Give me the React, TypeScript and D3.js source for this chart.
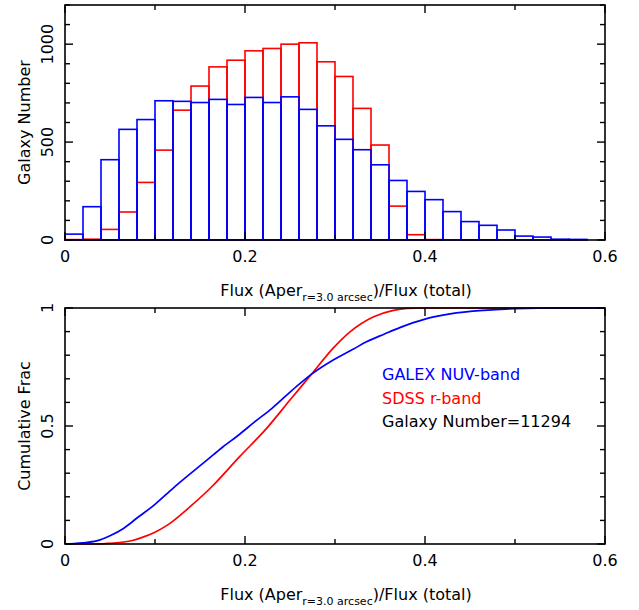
import { useRef, useEffect } from "react";
import * as d3 from "d3";

// histogram counts, bins of width 0.02 from 0 to 0.6
const binWidth = 0.02;
const nuvCounts = [30, 170, 410, 565, 615, 711, 708, 702, 718, 692, 728, 702, 731, 667, 583, 514, 461, 384, 304, 248, 206, 145, 94, 75, 51, 20, 15, 4, 3, 0];
const rCounts = [2, 4, 54, 143, 294, 459, 663, 786, 884, 918, 966, 978, 1000, 1007, 910, 835, 672, 485, 173, 27, 2, 0, 1, 1, 0, 0, 0, 0, 0, 0];

// cumulative fraction curves
const nuvCumX = [0, 0.01, 0.02, 0.035, 0.05, 0.065, 0.08, 0.1, 0.12, 0.14, 0.157, 0.175, 0.194, 0.21, 0.23, 0.257, 0.274, 0.298, 0.32, 0.335, 0.355, 0.372, 0.4, 0.428, 0.465, 0.5, 0.55, 0.6];
const nuvCumY = [0, 0.002, 0.005, 0.013, 0.035, 0.066, 0.11, 0.168, 0.236, 0.3, 0.353, 0.41, 0.465, 0.515, 0.575, 0.667, 0.72, 0.78, 0.825, 0.857, 0.89, 0.917, 0.953, 0.975, 0.99, 0.997, 1, 1];
const rCumX = [0, 0.03, 0.045, 0.06, 0.075, 0.085, 0.1, 0.115, 0.139, 0.165, 0.194, 0.224, 0.25, 0.274, 0.298, 0.317, 0.343, 0.365, 0.38, 0.4, 0.6];
const rCumY = [0, 0, 0.002, 0.006, 0.015, 0.027, 0.05, 0.083, 0.158, 0.25, 0.37, 0.49, 0.61, 0.72, 0.83, 0.9, 0.963, 0.99, 0.998, 1, 1];

const xTicks = [0, 0.2, 0.4, 0.6];
const histYTicks = [0, 500, 1000];
const cumYTicks = [0, 0.5, 1];
const legend = [
  { text: "GALEX NUV-band", color: "#0000ff" },
  { text: "SDSS r-band", color: "#ff0000" },
  { text: "Galaxy Number=11294", color: "#000000" },
];

const W = 639;
const H = 610;
const FONT = "'DejaVu Sans', sans-serif";
const FS = 16;

const App = () => {
  const ref = useRef<SVGSVGElement | null>(null);

  useEffect(() => {
    const svg = d3.select(ref.current);
    svg.selectAll("*").remove();

    const x = d3.scaleLinear().domain([0, 0.6]).range([65, 605]);

    // frame + inward ticks on all four sides
    const drawFrame = (
      y: d3.ScaleLinear<number, number>,
      yMinor: number,
      yMajor: number[],
      yLabel: string,
      yFmt: (v: number) => string
    ) => {
      const [y0, y1] = y.range();
      const g = svg.append("g");
      const xMinor = d3.range(0, 0.61, 0.1);
      const yMin = d3.range(0, y.domain()[1] + 1e-9, yMinor);
      const tick = (x1: number, yA: number, x2: number, yB: number) =>
        g.append("line").attr("x1", x1).attr("y1", yA).attr("x2", x2).attr("y2", yB)
          .attr("stroke", "#000").attr("stroke-width", 1.4);

      xMinor.forEach((v) => {
        const major = xTicks.some((t) => Math.abs(t - v) < 1e-6);
        const len = major ? 8 : 5;
        tick(x(v), y0, x(v), y0 - len);
        tick(x(v), y1, x(v), y1 + len);
      });
      yMin.forEach((v) => {
        const major = yMajor.some((t) => Math.abs(t - v) < 1e-6);
        const len = major ? 8 : 5;
        tick(65, y(v), 65 + len, y(v));
        tick(605, y(v), 605 - len, y(v));
      });

      g.append("rect").attr("x", 65).attr("y", y1).attr("width", 540).attr("height", y0 - y1)
        .attr("fill", "none").attr("stroke", "#000").attr("stroke-width", 1.6);

      // x tick labels
      xTicks.forEach((v) => {
        g.append("text").attr("x", x(v)).attr("y", y0 + 22).attr("text-anchor", "middle")
          .attr("font-family", FONT).attr("font-size", FS).text(v === 0 ? "0" : String(v));
      });
      // y tick labels (rotated)
      yMajor.forEach((v) => {
        g.append("text").attr("transform", `translate(53,${y(v)}) rotate(-90)`)
          .attr("text-anchor", "middle").attr("font-family", FONT).attr("font-size", FS).text(yFmt(v));
      });
      // y axis title
      g.append("text").attr("transform", `translate(29.5,${(y0 + y1) / 2}) rotate(-90)`)
        .attr("text-anchor", "middle").attr("font-family", FONT).attr("font-size", FS).text(yLabel);

      // x axis title with subscript
      const t = g.append("text").attr("x", 346).attr("y", y0 + 56).attr("text-anchor", "middle")
        .attr("font-family", FONT).attr("font-size", FS);
      t.append("tspan").text("Flux (Aper");
      t.append("tspan").attr("font-size", 11).attr("dy", 5).text("r=3.0 arcsec");
      t.append("tspan").attr("dy", -5).text(")/Flux (total)");
    };

    // ---- top: histogram ----
    const yH = d3.scaleLinear().domain([0, 1200]).range([240, 5]);

    const drawHist = (counts: number[], color: string) => {
      svg.append("g").selectAll("rect").data(counts).enter().append("rect")
        .attr("x", (_d, i) => x(i * binWidth))
        .attr("width", x(binWidth) - x(0))
        .attr("y", (d) => yH(d))
        .attr("height", (d) => yH(0) - yH(d))
        .attr("fill", "none")
        .attr("stroke", color)
        .attr("stroke-width", 1.6);
    };
    drawHist(rCounts, "#ff0000");
    drawHist(nuvCounts, "#0000ff");
    drawFrame(yH, 100, histYTicks, "Galaxy Number", (v) => String(v));

    // ---- bottom: cumulative ----
    const yC = d3.scaleLinear().domain([0, 1]).range([544, 308]);
    const line = d3.line<[number, number]>()
      .x((d) => x(d[0]))
      .y((d) => yC(d[1]))
      .curve(d3.curveMonotoneX);

    const rPts = rCumX.map((v, i) => [v, rCumY[i]] as [number, number]);
    const nuvPts = nuvCumX.map((v, i) => [v, nuvCumY[i]] as [number, number]);
    svg.append("path").attr("d", line(rPts)).attr("fill", "none").attr("stroke", "#ff0000").attr("stroke-width", 1.7);
    svg.append("path").attr("d", line(nuvPts)).attr("fill", "none").attr("stroke", "#0000ff").attr("stroke-width", 1.7);
    drawFrame(yC, 0.1, cumYTicks, "Cumulative Frac", (v) => String(v));

    legend.forEach((l, i) => {
      svg.append("text").attr("x", 382).attr("y", 380 + i * 23.5)
        .attr("font-family", FONT).attr("font-size", FS).attr("fill", l.color).text(l.text);
    });
  }, []);

  return (
    <svg
      ref={ref}
      width={W}
      height={H}
      style={{ position: "absolute", left: 0, top: 0, background: "#fff" }}
    />
  );
};

export default App;
